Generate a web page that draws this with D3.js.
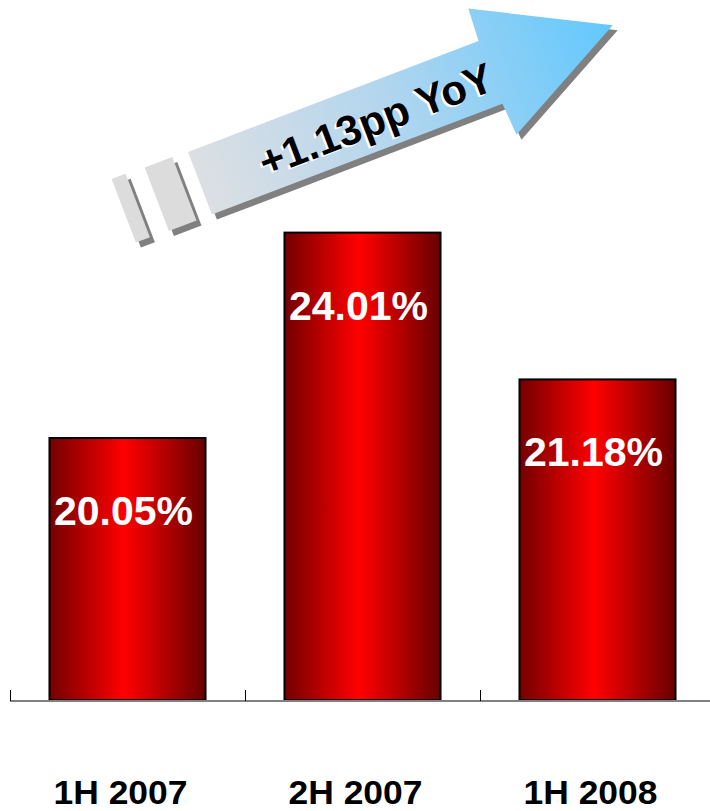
<!DOCTYPE html>
<html>
<head>
<meta charset="utf-8">
<script src="https://cdn.jsdelivr.net/npm/d3@7"></script>
<style>
  html, body { margin: 0; padding: 0; background: #ffffff; }
  svg { display: block; }
</style>
</head>
<body>
<svg id="chart" width="710" height="811"></svg>
<script>
// ---- data ----
const categories = ["1H 2007", "2H 2007", "1H 2008"];
const values = [20.05, 24.01, 21.18];
const valueLabels = ["20.05%", "24.01%", "21.18%"];
const annotation = "+1.13pp YoY";
const yDomain = [15, 27];

// ---- setup ----
const W = 710, H = 811;
const font = "'Liberation Sans', Arial, Helvetica, sans-serif";
const svg = d3.select("#chart");
const defs = svg.append("defs");

const x = d3.scaleBand()
  .domain(categories)
  .range([10, 715])
  .paddingInner(0.336)
  .paddingOuter(0.168);

const y = d3.scaleLinear().domain(yDomain).range([700, 77.5]);

// bar gradient
const bg = defs.append("linearGradient").attr("id", "barGrad")
  .attr("x1", "0%").attr("x2", "100%").attr("y1", "0%").attr("y2", "0%");
bg.append("stop").attr("offset", "0%").attr("stop-color", "#740000");
bg.append("stop").attr("offset", "48%").attr("stop-color", "#ff0000");
bg.append("stop").attr("offset", "100%").attr("stop-color", "#680000");

// arrow gradient (in local rotated frame)
const ag = defs.append("linearGradient").attr("id", "arrowGrad")
  .attr("gradientUnits", "userSpaceOnUse")
  .attr("x1", 0).attr("y1", 0).attr("x2", 442).attr("y2", 0);
ag.append("stop").attr("offset", "0%").attr("stop-color", "#dcdfe3");
ag.append("stop").attr("offset", "45%").attr("stop-color", "#b3d6ee");
ag.append("stop").attr("offset", "100%").attr("stop-color", "#62c8fd");

// ---- arrow annotation ----
const angle = -20.9;
const arrowPts = [[0,0],[311,0],[313,-34],[442,33],[313,101],[311,67],[0,67]];
const rectsTail = [[-81,-2,15,68],[-46,-1,29.5,68]];
const line = d3.line();

function drawArrow(g, isShadow) {
  g.selectAll("rect.tail").data(rectsTail).join("rect")
    .attr("class", "tail")
    .attr("x", d => d[0]).attr("y", d => d[1])
    .attr("width", d => d[2]).attr("height", d => d[3])
    .attr("fill", isShadow ? "#808080" : "#dcdcdc");
  g.append("path")
    .attr("d", line(arrowPts) + "Z")
    .attr("fill", isShadow ? "#808080" : "url(#arrowGrad)");
}
drawArrow(svg.append("g").attr("transform", `translate(193,157) rotate(${angle})`), true);
drawArrow(svg.append("g").attr("transform", `translate(188,152) rotate(${angle})`), false);

// annotation text with white halo
[["#ffffff", -2, 2], ["#000000", 0, 0]].forEach(([col, dx, dy]) => {
  svg.append("g").attr("transform", `translate(${188 + dx},${152 + dy}) rotate(${angle})`)
    .append("text")
    .attr("x", 187).attr("y", 37)
    .attr("text-anchor", "middle").attr("dominant-baseline", "central")
    .attr("font-family", font).attr("font-weight", "bold").attr("font-size", 42)
    .attr("fill", col)
    .text(annotation);
});

// ---- bars ----
svg.append("g").selectAll("rect").data(values).join("rect")
  .attr("x", (d, i) => x(categories[i]))
  .attr("y", d => y(d))
  .attr("width", x.bandwidth())
  .attr("height", d => y(yDomain[0]) - y(d))
  .attr("fill", "url(#barGrad)")
  .attr("stroke", "#000000")
  .attr("stroke-width", 2);

// value labels
svg.append("g").selectAll("text").data(values).join("text")
  .attr("x", (d, i) => x(categories[i]) + x.bandwidth() / 2 - 4)
  .attr("y", d => y(d) + 87)
  .attr("text-anchor", "middle")
  .attr("font-family", font).attr("font-weight", "bold").attr("font-size", 41)
  .attr("fill", "#ffffff")
  .text((d, i) => valueLabels[i]);

// ---- x axis ----
const axisY = 701;
svg.append("line")
  .attr("x1", 10).attr("x2", W)
  .attr("y1", axisY).attr("y2", axisY)
  .attr("stroke", "#808080").attr("stroke-width", 2);

const tickXs = categories.map(c => x(c) - x.step() * x.paddingOuter()).concat([x.range()[1]]);
svg.append("g").selectAll("line").data(tickXs).join("line")
  .attr("x1", d => Math.round(d) + 0.5).attr("x2", d => Math.round(d) + 0.5)
  .attr("y1", 690).attr("y2", axisY)
  .attr("stroke", "#000000").attr("stroke-width", 1);

// category labels
svg.append("g").selectAll("text").data(categories).join("text")
  .attr("x", d => x(d) + x.bandwidth() / 2 - 7 - 67)
  .attr("y", 804)
  .attr("font-family", font).attr("font-weight", "bold").attr("font-size", 34)
  .attr("textLength", 134).attr("lengthAdjust", "spacingAndGlyphs")
  .attr("fill", "#000000")
  .text(d => d);
</script>
</body>
</html>
